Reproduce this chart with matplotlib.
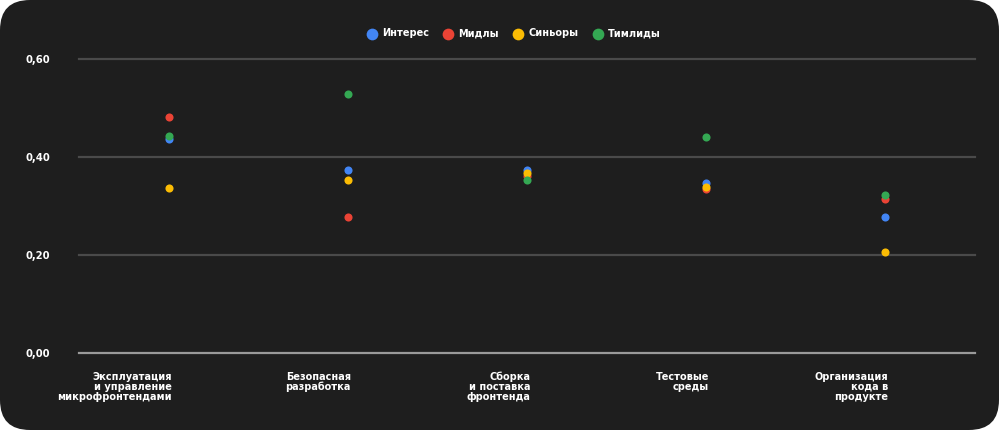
import matplotlib
matplotlib.use("Agg")
import matplotlib.pyplot as plt
from matplotlib.patches import FancyBboxPatch

# categories (x axis) and values per group
categories = [
    "Эксплуатация\nи управление\nмикрофронтендами",
    "Безопасная\nразработка",
    "Сборка\nи поставка\nфронтенда",
    "Тестовые\nсреды",
    "Организация\nкода в\nпродукте",
]
series_names = ["Интерес", "Мидлы", "Синьоры", "Тимлиды"]
interes = [0.436, 0.373, 0.373, 0.346, 0.277]
midly = [0.481, 0.278, 0.361, 0.334, 0.314]
sinyory = [0.337, 0.353, 0.368, 0.338, 0.206]
timlidy = [0.442, 0.529, 0.352, 0.441, 0.322]
yticks = [0.0, 0.2, 0.4, 0.6]
ytick_labels = ["0,00", "0,20", "0,40", "0,60"]

colors = ["#4285F4", "#EA4335", "#FBBC04", "#34A853"]
bg = "#1e1e1e"

plt.rcParams['font.family'] = ['DejaVu Sans']

fig = plt.figure(figsize=(9.99, 4.30), dpi=100, facecolor="white")
# rounded dark card behind everything
card = FancyBboxPatch((0, 0), 9.99, 4.30, boxstyle="round,pad=0,rounding_size=0.3",
                      transform=fig.dpi_scale_trans, facecolor=bg, edgecolor="none",
                      zorder=-10)
fig.patches.append(card)

ax = fig.add_axes([0.0791, 0.1798, 0.8969, 0.683])
ax.set_facecolor("none")

x = range(len(categories))
for name, vals, c in zip(series_names, [interes, midly, sinyory, timlidy], colors):
    ax.scatter(x, vals, s=34, color=c, label=name, zorder=3, linewidths=0)

ax.set_xlim(-0.5, len(categories) - 0.5)
ax.set_ylim(0, 0.6)
ax.set_yticks(yticks)
ax.set_yticklabels(ytick_labels)
for y in yticks:
    ax.axhline(y, color="#9a9a9a" if y == 0 else "#4a4a4a", lw=1.6, zorder=1, clip_on=False)

for s in ax.spines.values():
    s.set_visible(False)
ax.tick_params(axis="y", length=0, pad=21, labelcolor="white", labelsize=7.2)
for lbl in ax.get_yticklabels():
    lbl.set_fontweight("bold")

ax.set_xticks([])
for i, lab in enumerate(categories):
    ax.annotate(lab, xy=(i, 0), xytext=(3, -19), textcoords="offset pixels",
                ha="right", va="top", multialignment="right", color="white",
                fontsize=7, fontweight="bold", linespacing=1.0)

leg = fig.legend(loc="center", bbox_to_anchor=(0.512, 0.923), ncol=4, frameon=False,
                 markerscale=1.45, handletextpad=0.05, columnspacing=1.0,
                 prop={"size": 7, "weight": "bold"})
for t in leg.get_texts():
    t.set_color("white")

fig.savefig("out.png", dpi=100, facecolor="white")
